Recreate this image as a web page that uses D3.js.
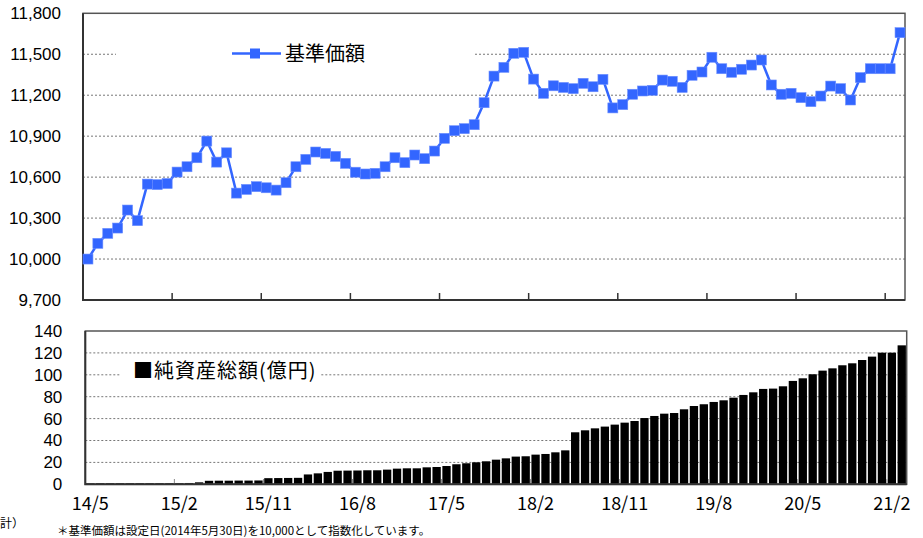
<!DOCTYPE html>
<html>
<head>
<meta charset="utf-8">
<script src="https://cdn.jsdelivr.net/npm/d3@7.9.0/dist/d3.min.js"></script>
<style>
  body { margin: 0; background: #fff; }
  svg { display: block; }
  .ylab text { font-family: "Liberation Sans", Arial, sans-serif; font-size: 17px; fill: #000; }
  .xlab text { font-family: "Noto Sans CJK JP", sans-serif; font-size: 18px; fill: #000; }
  .grid { stroke: #777; stroke-width: 1; stroke-dasharray: 2,2; }
</style>
</head>
<body>
<svg width="923" height="538"></svg>
<script>
// months 14/5 .. 21/3
const months = d3.timeMonth.range(new Date(2014, 4, 1), new Date(2021, 3, 1)).map(d3.timeFormat('%y/%-m'));
const tickLabels = ['14/5', '15/2', '15/11', '16/8', '17/5', '18/2', '18/11', '19/8', '20/5', '21/2'];
const navTicks = [9700, 10000, 10300, 10600, 10900, 11200, 11500, 11800];
const assetTicks = [0, 20, 40, 60, 80, 100, 120, 140];

// 基準価額
const nav = [10000, 10115, 10188, 10227, 10359, 10281, 10549, 10545, 10553, 10637,
  10676, 10742, 10864, 10710, 10778, 10483, 10510, 10530, 10522, 10505,
  10559, 10676, 10730, 10784, 10774, 10752, 10701, 10636, 10623, 10628,
  10676, 10742, 10706, 10762, 10735, 10791, 10884, 10940, 10955, 10984,
  11145, 11340, 11404, 11507, 11514, 11318, 11214, 11269, 11257, 11248,
  11287, 11262, 11316, 11107, 11131, 11207, 11231, 11236, 11311, 11302,
  11257, 11346, 11370, 11478, 11394, 11368, 11390, 11421, 11458, 11275,
  11207, 11214, 11182, 11153, 11194, 11267, 11248, 11165, 11329, 11394,
  11394, 11394, 11658];

// 純資産総額(億円)
const assets = [0.9, 1, 1, 1, 1, 1, 1, 1, 1, 1,
  1.2, 1.8, 3.2, 3.3, 3.3, 3.4, 3.4, 3.5, 5.6, 5.7,
  5.8, 5.9, 9.0, 10.0, 11.3, 12.4, 12.5, 12.6, 12.8, 12.8,
  13.4, 14.3, 14.6, 14.6, 15.5, 15.8, 16.7, 18.3, 19.2, 20.1,
  21.0, 22.5, 23.7, 25.3, 25.6, 27.1, 27.7, 29.2, 31.0, 47.5,
  49.3, 51.1, 52.7, 54.5, 56.3, 57.8, 60.5, 62.4, 64.5, 65.1,
  68.5, 71.5, 73.1, 75.2, 76.7, 79.1, 81.6, 84.0, 87.1, 87.4,
  89.5, 94.4, 96.8, 100.5, 103.8, 105.9, 108.7, 110.5, 113.5, 116.6,
  120.2, 120.2, 126.9];

const svg = d3.select('svg');
const blue = '#3366ff';

// ---------- top chart ----------
const x1 = d3.scaleBand().domain(months).range([83, 905]);
const y1 = d3.scaleLinear().domain([9700, 11800]).range([300, 13.3]);
const navG = svg.append('g');

navG.selectAll('line.grid')
  .data(navTicks.filter(d => d > 9700 && d < 11800))
  .join('line')
  .attr('class', 'grid')
  .attr('x1', 83).attr('x2', 905)
  .attr('y1', d => y1(d)).attr('y2', d => y1(d));

// legend box hides the grid line behind it
navG.append('rect').attr('x', 116).attr('y', 36).attr('width', 357).attr('height', 36).attr('fill', '#fff');
navG.append('line').attr('x1', 232).attr('x2', 281).attr('y1', 53.5).attr('y2', 53.5)
  .attr('stroke', blue).attr('stroke-width', 2.5);
navG.append('rect').attr('x', 250).attr('y', 48.5).attr('width', 10).attr('height', 10).attr('fill', blue);
navG.append('text').attr('x', 285).attr('y', 61)
  .attr('font-family', '"Noto Sans CJK JP", sans-serif').attr('font-size', 20)
  .text('基準価額');

// frame
navG.append('rect').attr('x', 83).attr('y', 13.3).attr('width', 822).attr('height', 286.7)
  .attr('fill', 'none').attr('stroke', '#555').attr('stroke-width', 1.5);
navG.append('path').attr('d', 'M83,13.3V300H905').attr('fill', 'none').attr('stroke', '#333').attr('stroke-width', 2);
navG.selectAll('line.tk')
  .data(tickLabels.slice(1))
  .join('line')
  .attr('class', 'tk')
  .attr('x1', d => x1(d)).attr('x2', d => x1(d))
  .attr('y1', 300).attr('y2', 293)
  .attr('stroke', '#333').attr('stroke-width', 1.5);

const cx1 = (d, i) => x1(months[i]) + x1.bandwidth() / 2;
navG.append('path')
  .datum(nav)
  .attr('fill', 'none')
  .attr('stroke', blue)
  .attr('stroke-width', 2.5)
  .attr('d', d3.line().x(cx1).y(d => y1(d)));
navG.selectAll('rect.mk')
  .data(nav)
  .join('rect')
  .attr('class', 'mk')
  .attr('x', (d, i) => cx1(d, i) - 5)
  .attr('y', d => y1(d) - 5)
  .attr('width', 10).attr('height', 10)
  .attr('fill', blue)
  .attr('stroke', '#6d8fff').attr('stroke-width', 0.6);

navG.append('g').attr('class', 'ylab')
  .attr('transform', 'translate(83,0)')
  .call(d3.axisLeft(y1).tickValues(navTicks).tickSize(0).tickPadding(22).tickFormat(d3.format(',')))
  .call(g => g.select('.domain').remove());

// ---------- bottom chart ----------
const x2 = d3.scaleBand().domain(months).range([85.3, 906.7]);
const y2 = d3.scaleLinear().domain([0, 140]).range([484.3, 331]);
const assetG = svg.append('g');

assetG.selectAll('line.grid')
  .data(assetTicks.filter(d => d > 0 && d < 140))
  .join('line')
  .attr('class', 'grid')
  .attr('x1', 85.3).attr('x2', 906.7)
  .attr('y1', d => y2(d)).attr('y2', d => y2(d));

assetG.append('rect').attr('x', 120).attr('y', 360).attr('width', 200).attr('height', 26).attr('fill', '#fff');
assetG.append('text').attr('x', 133).attr('y', 378)
  .attr('font-family', '"Noto Sans CJK JP", sans-serif').attr('font-size', 20)
  .attr('letter-spacing', 1)
  .text('■純資産総額(億円)');

const bw = x2.bandwidth() * 0.84;
assetG.selectAll('rect.bar')
  .data(assets)
  .join('rect')
  .attr('class', 'bar')
  .attr('x', (d, i) => x2(months[i]) + (x2.bandwidth() - bw) / 2)
  .attr('y', d => y2(d))
  .attr('width', bw)
  .attr('height', d => y2(0) - y2(d))
  .attr('fill', '#000');

assetG.selectAll('line.tk')
  .data(tickLabels.slice(1))
  .join('line')
  .attr('class', 'tk')
  .attr('x1', d => x2(d)).attr('x2', d => x2(d))
  .attr('y1', 484.3).attr('y2', 479)
  .attr('stroke', '#888').attr('stroke-width', 1);

assetG.append('rect').attr('x', 85.3).attr('y', 331).attr('width', 821.4).attr('height', 153.3)
  .attr('fill', 'none').attr('stroke', '#555').attr('stroke-width', 1.5);
assetG.append('path').attr('d', 'M85.3,331V484.3H906.7').attr('fill', 'none').attr('stroke', '#333').attr('stroke-width', 2);

assetG.append('g').attr('class', 'ylab')
  .attr('transform', 'translate(85.3,0)')
  .call(d3.axisLeft(y2).tickValues(assetTicks).tickSize(0).tickPadding(23))
  .call(g => g.select('.domain').remove());

assetG.append('g').attr('class', 'xlab')
  .attr('transform', 'translate(0,484.3)')
  .call(d3.axisBottom(x2).tickValues(tickLabels).tickSize(0).tickPadding(13))
  .call(g => g.select('.domain').remove());

// notes
svg.append('text').attr('x', 0).attr('y', 528)
  .attr('font-family', '"Noto Sans CJK JP", sans-serif').attr('font-size', 12)
  .text('計）');
svg.append('text').attr('x', 57).attr('y', 535)
  .attr('font-family', '"Noto Sans CJK JP", sans-serif').attr('font-size', 11.5)
  .text('＊基準価額は設定日(2014年5月30日)を10,000として指数化しています。');
</script>
</body>
</html>
